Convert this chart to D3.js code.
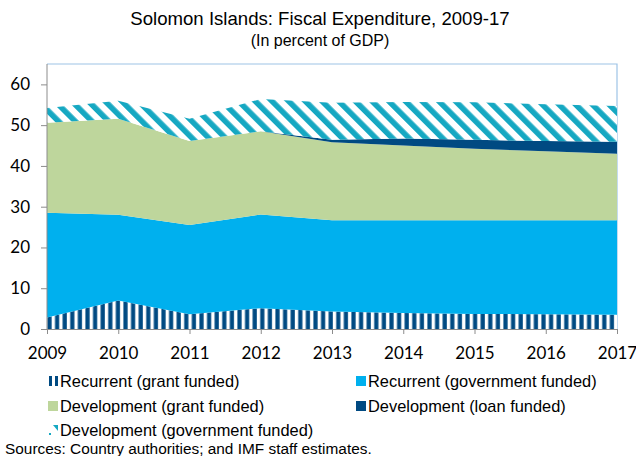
<!DOCTYPE html>
<html>
<head>
<meta charset="utf-8">
<script src="https://cdn.jsdelivr.net/npm/d3@7"></script>
<style>
  html, body { margin: 0; padding: 0; background: #fff; }
  svg { display: block; }
</style>
</head>
<body>
<svg id="chart" width="636" height="456"></svg>
<script>
// Solomon Islands fiscal expenditure by component, percent of GDP
const years = [2009, 2010, 2011, 2012, 2013, 2014, 2015, 2016, 2017];
const recurrentGrant = [2.8, 7.0, 3.6, 5.1, 4.3, 3.9, 3.7, 3.6, 3.5];
const recurrentGov   = [25.7, 21.0, 21.9, 23.0, 22.4, 22.8, 23.0, 23.1, 23.2];
const developmentGrant = [22.1, 23.6, 20.6, 20.4, 19.1, 18.3, 17.5, 16.9, 16.3];
const developmentLoan  = [0.0, 0.0, 0.0, 0.0, 0.6, 1.7, 2.2, 2.5, 2.9];
const developmentGov   = [3.6, 4.4, 5.5, 7.9, 9.1, 9.0, 9.2, 9.0, 8.8];
const yTicks = [0, 10, 20, 30, 40, 50, 60];

const seriesKeys = ["recGrant", "recGov", "devGrant", "devLoan", "devGov"];
const seriesLabels = {
  recGrant: "Recurrent (grant funded)",
  recGov: "Recurrent (government funded)",
  devGrant: "Development (grant funded)",
  devLoan: "Development (loan funded)",
  devGov: "Development (government funded)"
};
const navy = "#004A82", lightBlue = "#00B0EE", green = "#BED69C", teal = "#16A8C2";
const fills = {
  recGrant: "url(#vstripe)",
  recGov: lightBlue,
  devGrant: green,
  devLoan: navy,
  devGov: "url(#dstripe)"
};

const rows = years.map((y, i) => ({
  year: y,
  recGrant: recurrentGrant[i],
  recGov: recurrentGov[i],
  devGrant: developmentGrant[i],
  devLoan: developmentLoan[i],
  devGov: developmentGov[i]
}));

const svg = d3.select("#chart");
const margin = { left: 47, right: 19, top: 64, bottom: 127 };
const W = 636, H = 456;
const x = d3.scaleLinear().domain([2009, 2017]).range([margin.left, W - margin.right]);
const y = d3.scaleLinear().domain([0, 65]).range([H - margin.bottom, margin.top]);

// fill patterns
const defs = svg.append("defs");
const vp = defs.append("pattern").attr("id", "vstripe")
  .attr("patternUnits", "userSpaceOnUse").attr("width", 7.6).attr("height", 10)
  .attr("patternTransform", `translate(${margin.left},0)`);
vp.append("rect").attr("width", 7.6).attr("height", 10).attr("fill", "#fff");
vp.append("rect").attr("x", 0.4).attr("width", 4.2).attr("height", 10).attr("fill", navy);

const dp = defs.append("pattern").attr("id", "dstripe")
  .attr("patternUnits", "userSpaceOnUse").attr("width", 11.8).attr("height", 10)
  .attr("patternTransform", "rotate(-45)");
dp.append("rect").attr("width", 11.8).attr("height", 10).attr("fill", "#fff");
dp.append("rect").attr("width", 5.6).attr("height", 10).attr("fill", teal);

// title
svg.append("text").attr("x", 320).attr("y", 25).attr("text-anchor", "middle")
  .attr("font-family", "Liberation Sans, Arial, sans-serif").attr("font-size", 18.6)
  .attr("fill", "#000").text("Solomon Islands: Fiscal Expenditure, 2009-17");
svg.append("text").attr("x", 320).attr("y", 46).attr("text-anchor", "middle")
  .attr("font-family", "Liberation Sans, Arial, sans-serif").attr("font-size", 16)
  .attr("fill", "#000").text("(In percent of GDP)");

// plot frame (top and right)
svg.append("path")
  .attr("d", `M${x(2009)},${y(65)}H${x(2017)}V${y(0)}`)
  .attr("fill", "none").attr("stroke", "#9DC3E6").attr("stroke-width", 1.2);

// stacked areas
const stack = d3.stack().keys(seriesKeys);
const layers = stack(rows);
const area = d3.area()
  .x(d => x(d.data.year))
  .y0(d => y(d[0]))
  .y1(d => y(d[1]));
svg.append("g").selectAll("path").data(layers).join("path")
  .attr("d", area)
  .attr("fill", d => fills[d.key]);

// axes
const axisColor = "#8C8C8C";
const yAxis = svg.append("g").attr("transform", `translate(${margin.left},0)`)
  .call(d3.axisLeft(y).tickValues(yTicks).tickSize(6).tickPadding(11).tickFormat(d3.format("d")));
yAxis.select(".domain").attr("stroke", axisColor).attr("d", `M0,${y(65)}V${y(0)}`);
yAxis.selectAll(".tick line").attr("stroke", axisColor);
yAxis.selectAll("text").attr("font-family", "Lato, Carlito, sans-serif").attr("font-size", 17).attr("fill", "#000");

const xAxis = svg.append("g").attr("transform", `translate(0,${y(0)})`)
  .call(d3.axisBottom(x).tickValues(years).tickSize(5).tickPadding(13).tickFormat(d3.format("d")));
xAxis.select(".domain").attr("stroke", axisColor);
xAxis.selectAll(".tick line").attr("stroke", axisColor);
xAxis.selectAll("text").attr("font-family", "Lato, Carlito, sans-serif").attr("font-size", 17).attr("fill", "#000");

// legend
const legendItems = [
  { key: "recGrant", x: 47, y: 381 },
  { key: "recGov", x: 355, y: 381 },
  { key: "devGrant", x: 47, y: 406 },
  { key: "devLoan", x: 355, y: 406 },
  { key: "devGov", x: 47, y: 430 }
];
const lg = svg.append("g").attr("font-family", "Liberation Sans, Arial, sans-serif").attr("font-size", 16.4);
legendItems.forEach(item => {
  const g = lg.append("g").attr("transform", `translate(${item.x},${item.y})`);
  if (item.key === "recGrant") {
    g.append("rect").attr("x", 2).attr("y", -5).attr("width", 3).attr("height", 10).attr("fill", navy);
    g.append("rect").attr("x", 8).attr("y", -5).attr("width", 3).attr("height", 10).attr("fill", navy);
  } else if (item.key === "devGov") {
    g.append("path").attr("d", "M6,-5L11,-5L11,1Z").attr("fill", teal);
    g.append("rect").attr("x", 2).attr("y", 3).attr("width", 2).attr("height", 2).attr("fill", teal);
  } else {
    g.append("rect").attr("x", 1).attr("y", -5).attr("width", 10).attr("height", 10).attr("fill", fills[item.key]);
  }
  g.append("text").attr("x", 13).attr("y", 6).attr("fill", "#000").text(seriesLabels[item.key]);
});

// source note
svg.append("text").attr("x", 5).attr("y", 454)
  .attr("font-family", "Liberation Sans, Arial, sans-serif").attr("font-size", 15.4)
  .attr("fill", "#000").text("Sources: Country authorities; and IMF staff estimates.");
</script>
</body>
</html>
